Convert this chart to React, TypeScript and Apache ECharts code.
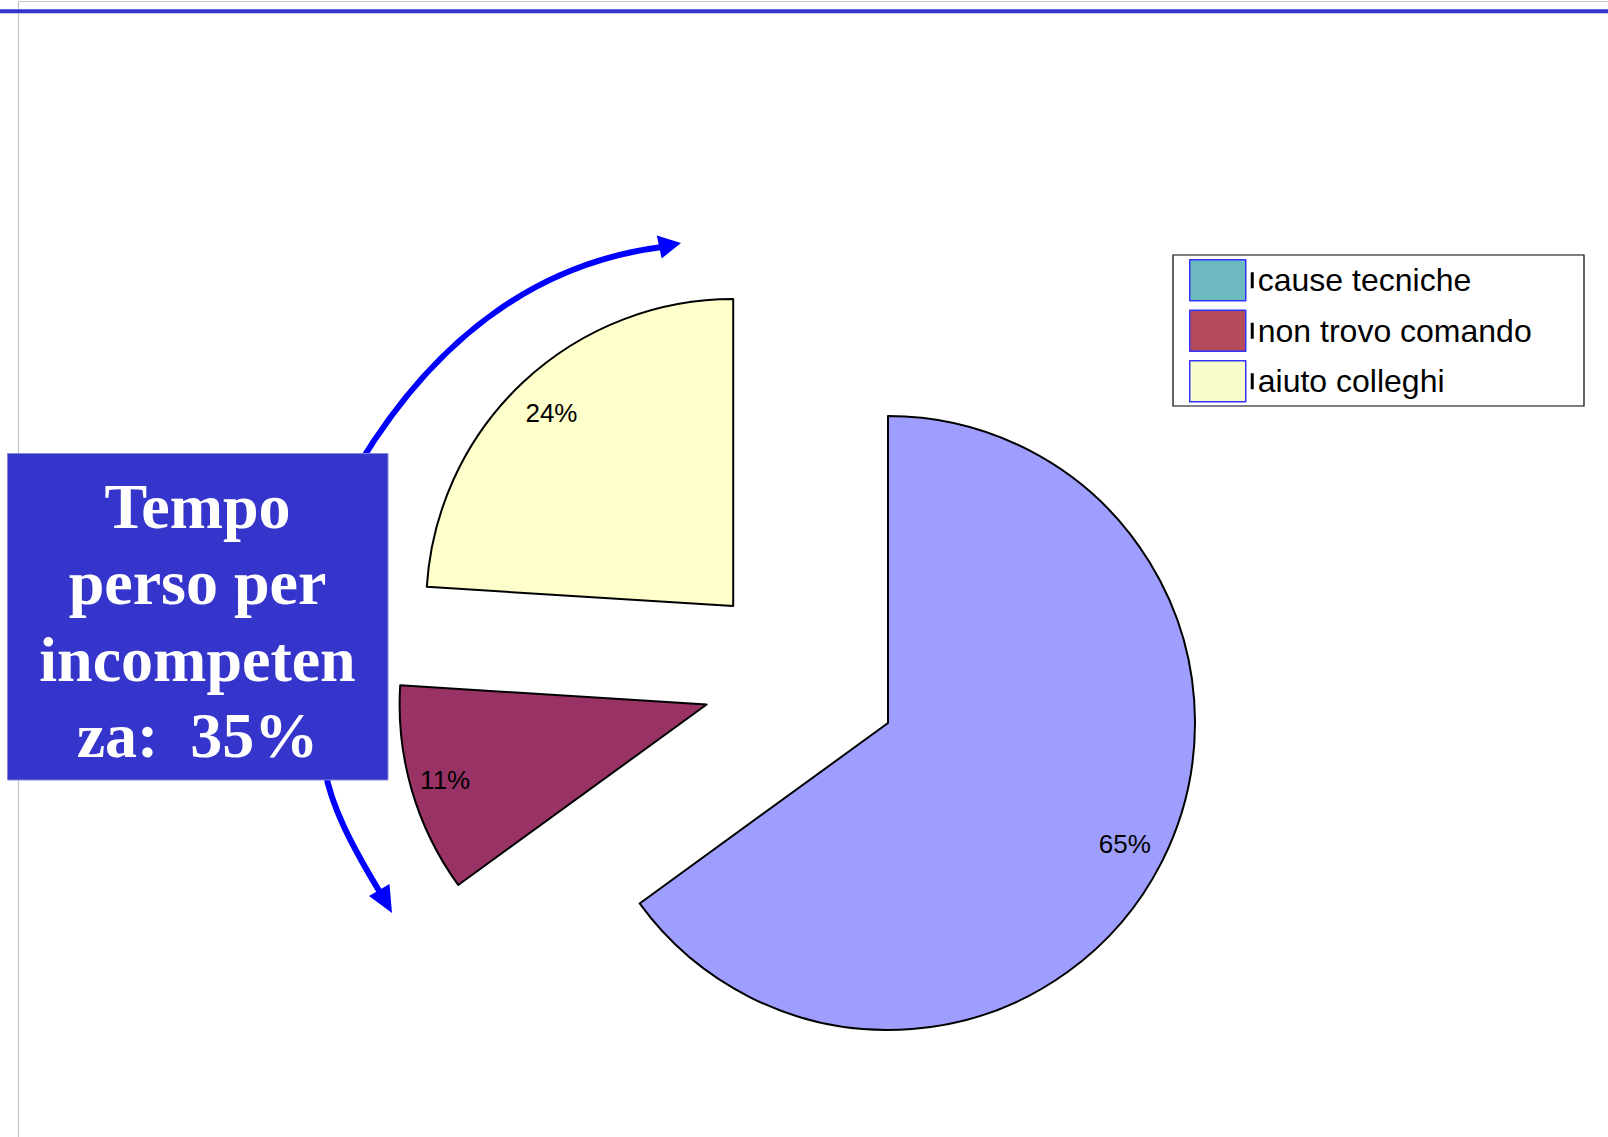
import React, { useEffect, useRef } from "react";
import * as echarts from "echarts";

// ---- data ----
const categories = ["cause tecniche", "non trovo comando", "aiuto colleghi"];
const values = [65, 11, 24];
const boxLines = ["Tempo", "perso per", "incompeten", "za:\u00a0 35%"];

// ---- styles / layout ----
const sliceColors = ["#9e9eff", "#993366", "#ffffcc"];
const legendColors = ["#6cb9c0", "#b44a5a", "#f8fbcb"];
const sliceCenters: number[][] = [
  [888, 723],
  [706.6, 704.5],
  [733.2, 606.1],
];
const labelInner = [0.712, 0.754, 0.71];
const R = 307;

export default function App() {
  const ref = useRef<HTMLDivElement>(null);

  useEffect(() => {
    if (!ref.current) return;
    const chart = echarts.init(ref.current, undefined, { renderer: "svg" });

    const fillSeries = categories.map((_, k) => ({
      type: "pie",
      silent: true,
      center: sliceCenters[k],
      radius: [0, R],
      startAngle: 90,
      clockwise: true,
      avoidLabelOverlap: false,
      label: { show: false },
      labelLine: { show: false },
      emphasis: { disabled: true },
      z: 2,
      data: categories.map((name, i) => ({
        name,
        value: values[i],
        itemStyle:
          i === k
            ? { color: sliceColors[i], borderColor: "#000", borderWidth: 2 }
            : { color: "rgba(0,0,0,0)", borderWidth: 0 },
      })),
    }));

    const labelSeries = categories.map((_, k) => ({
      type: "pie",
      silent: true,
      center: sliceCenters[k],
      radius: [R * labelInner[k], R],
      startAngle: 90,
      clockwise: true,
      avoidLabelOverlap: false,
      labelLine: { show: false },
      emphasis: { disabled: true },
      z: 3,
      label: {
        show: true,
        position: "inside",
        formatter: "{c}%",
        color: "#000",
        fontFamily: "Liberation Sans",
        fontSize: 26,
      },
      data: categories.map((name, i) => ({
        name,
        value: values[i],
        itemStyle: { color: "rgba(0,0,0,0)", borderWidth: 0 },
        label: { show: i === k },
      })),
    }));

    const option: any = {
      animation: false,
      backgroundColor: "#fff",
      legend: {
        orient: "vertical",
        left: 1189,
        top: 259,
        padding: 0,
        itemWidth: 56,
        itemHeight: 41,
        itemGap: 8,
        icon: "rect",
        selectedMode: false,
        data: categories.map((name, i) => ({
          name,
          icon: "rect",
          itemStyle: { color: legendColors[i], borderColor: "#3333ff", borderWidth: 1.5 },
        })),
        formatter: (n: string) => `{bar| }{t|${n}}`,
        textStyle: {
          rich: {
            bar: { backgroundColor: "#000", width: 3, height: 16 },
            t: {
              fontFamily: "Liberation Sans",
              fontSize: 32,
              color: "#000",
              padding: [0, 0, 0, 4],
            },
          },
        },
      },
      graphic: [
        // frame lines
        { type: "line", shape: { x1: 18.5, y1: 1.5, x2: 18.5, y2: 1137 }, style: { stroke: "#c4c4c4", lineWidth: 1.2 } },
        { type: "line", shape: { x1: 18, y1: 1.5, x2: 1608, y2: 1.5 }, style: { stroke: "#c4c4c4", lineWidth: 1.2 } },
        { type: "line", shape: { x1: 0, y1: 11.3, x2: 1608, y2: 11.3 }, style: { stroke: "#3535d0", lineWidth: 4 } },
        // legend border
        { type: "rect", shape: { x: 1173, y: 255, width: 411, height: 151 }, style: { fill: "none", stroke: "#000", lineWidth: 1.2 } },
        // arrows
        {
          type: "bezierCurve",
          shape: { x1: 358, y1: 466, cpx1: 440, cpy1: 330, cpx2: 545, cpy2: 262, x2: 662, y2: 247 },
          style: { stroke: "#0000ff", lineWidth: 6, fill: "none" },
        },
        {
          type: "polygon",
          shape: { points: [[681, 243], [661.6, 258.5], [656.8, 235.5]] },
          style: { fill: "#0000ff" },
        },
        {
          type: "bezierCurve",
          shape: { x1: 325, y1: 770, cpx1: 331, cpy1: 805, cpx2: 350, cpy2: 843, x2: 381, y2: 894 },
          style: { stroke: "#0000ff", lineWidth: 6, fill: "none" },
        },
        {
          type: "polygon",
          shape: { points: [[392, 913], [389.5, 884], [369, 896]] },
          style: { fill: "#0000ff" },
        },
        // blue box
        {
          type: "rect",
          shape: { x: 7.5, y: 453.5, width: 380.5, height: 326.5 },
          style: { fill: "#3535cc", stroke: "#8585e0", lineWidth: 1 },
        },
        ...boxLines.map((line, i) => ({
          type: "text",
          x: 197.5,
          y: 506 + i * 76.6,
          style: {
            text: line,
            fill: "#fff",
            font: 'bold 64px "Liberation Serif"',
            textAlign: "center",
            textVerticalAlign: "middle",
          },
        })),
      ],
      series: [...fillSeries, ...labelSeries],
    };

    chart.setOption(option);
    return () => chart.dispose();
  }, []);

  return (
    <div
      ref={ref}
      style={{ position: "fixed", left: 0, top: 0, width: 1608, height: 1137, background: "#fff" }}
    />
  );
}
